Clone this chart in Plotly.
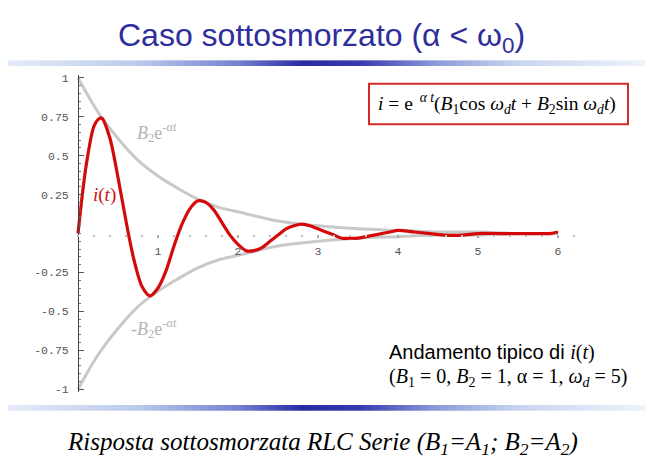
import plotly.graph_objects as go

# Underdamped series RLC response i(t) (B1 = 0, B2 = 1, alpha = 1, omega_d = 5)
t_vals = [0, 0.1, 0.2, 0.27, 0.3, 0.4, 0.5, 0.6, 0.7, 0.8, 0.9, 1.0, 1.1, 1.2, 1.3,
          1.4, 1.5, 1.6, 1.7, 1.8, 1.9, 2.0, 2.1, 2.2, 2.3, 2.4, 2.5, 2.6, 2.7,
          2.8, 2.9, 3.0, 3.1, 3.2, 3.3, 3.4, 3.5, 3.6, 3.7, 3.8, 3.9, 4.0, 4.2,
          4.4, 4.6, 4.8, 5.0, 5.3, 5.6, 5.9, 6.0]
i_vals = [0, 0.43, 0.69, 0.74, 0.74, 0.61, 0.36, 0.08, -0.17, -0.34, -0.40, -0.35,
          -0.24, -0.08, 0.06, 0.16, 0.21, 0.20, 0.15, 0.07, -0.01, -0.07, -0.11,
          -0.11, -0.09, -0.05, -0.01, 0.03, 0.05, 0.06, 0.05, 0.03, 0.01, -0.01,
          -0.03, -0.03, -0.03, -0.02, -0.01, 0.00, 0.01, 0.02, 0.01, 0.00, -0.01,
          -0.01, 0.00, 0.00, 0.00, 0.00, 0.01]

# Envelope B2*e^(-alpha t)
env_t = [0, 0.25, 0.5, 0.75, 1.0, 1.25, 1.5, 1.75, 2.0, 2.5, 3.0, 3.5, 4.0, 4.5,
         5.0, 5.5, 6.0]
env_upper = [1.0, 0.78, 0.61, 0.47, 0.37, 0.29, 0.22, 0.17, 0.14, 0.08, 0.05, 0.03,
             0.02, 0.01, 0.01, 0.0, 0.0]
env_lower = [-v for v in env_upper]

x_ticks = [1, 2, 3, 4, 5, 6]
x_labels = ["1", "2", "3", "4", "5", "6"]
y_ticks = [-1, -0.75, -0.5, -0.25, 0.25, 0.5, 0.75, 1]
y_labels = ["-1", "-0.75", "-0.5", "-0.25", "0.25", "0.5", "0.75", "1"]

W, H = 645, 473


def fx(p):
    return p / W


def fy(p):
    return 1 - p / H


GRAY = "#c9c9c9"
RED = "#d40a0a"
SERIF = "Liberation Serif"
SANS = "Liberation Sans"
MONO = "Liberation Mono"

fig = go.Figure()

fig.add_trace(go.Scatter(x=env_t, y=env_upper, mode="lines",
                         line=dict(color=GRAY, width=3, shape="spline"),
                         hoverinfo="skip", showlegend=False))
fig.add_trace(go.Scatter(x=env_t, y=env_lower, mode="lines",
                         line=dict(color=GRAY, width=3, shape="spline"),
                         hoverinfo="skip", showlegend=False))
fig.add_trace(go.Scatter(x=t_vals, y=i_vals, mode="lines",
                         line=dict(color=RED, width=3.2, shape="spline", smoothing=0.8),
                         showlegend=False))

# Decorative gradient rules above and below the chart
bar_scale = [[0, "#e4ecf8"], [0.2, "#bccbec"], [0.36, "#7482d0"], [0.46, "#2a2aa6"],
             [0.55, "#3838b0"], [0.67, "#8a9ad8"], [0.8, "#c8d5f0"], [1, "#eef3fb"]]
for ax in ("2", "3"):
    fig.add_trace(go.Heatmap(z=[[0, 1], [0, 1]], x=[0, 1], y=[0, 1],
                             colorscale=bar_scale, zsmooth="best", showscale=False,
                             hoverinfo="skip", xaxis="x" + ax, yaxis="y" + ax))

fig.update_layout(
    width=W, height=H,
    margin=dict(l=0, r=0, t=0, b=0),
    paper_bgcolor="white", plot_bgcolor="white",
    xaxis=dict(domain=[fx(74), fx(578)], range=[-0.05, 6.25],
               anchor="free", position=fy(234),
               showline=False, zeroline=False, showgrid=False,
               tickmode="array", tickvals=x_ticks, ticktext=x_labels,
               ticks="outside", ticklen=3, tickwidth=2, tickcolor="#aaaaaa",
               minor=dict(tickmode="linear", tick0=0, dtick=0.2, ticks="outside",
                          ticklen=2, tickwidth=2, tickcolor="#bdbdbd"),
               tickfont=dict(family=MONO, size=11.5, color="#555555"),
               ticklabelstandoff=4),
    yaxis=dict(domain=[fy(395.2), fy(72.8)], range=[-1.02, 1.02],
               anchor="free", position=fx(78),
               showline=True, linecolor="#444444", linewidth=1,
               zeroline=False, showgrid=False,
               tickmode="array", tickvals=y_ticks, ticktext=y_labels,
               ticks="inside", ticklen=5, tickwidth=1, tickcolor="#555555",
               minor=dict(tickmode="linear", tick0=0, dtick=0.05, ticks="inside",
                          ticklen=2, tickwidth=1, tickcolor="#777777"),
               tickfont=dict(family=MONO, size=11.5, color="#555555"),
               ticklabelstandoff=7),
    xaxis2=dict(domain=[fx(8), 1], range=[0, 1], visible=False, fixedrange=True),
    yaxis2=dict(domain=[fy(64), fy(58)], range=[0, 1], visible=False, fixedrange=True),
    xaxis3=dict(domain=[fx(8), 1], range=[0, 1], visible=False, fixedrange=True),
    yaxis3=dict(domain=[fy(414), fy(408)], range=[0, 1], visible=False, fixedrange=True),
)

# Formula box
fig.add_shape(type="rect", xref="paper", yref="paper",
              x0=fx(369), x1=fx(628), y0=fy(123), y1=fy(82),
              line=dict(color="#d42a2a", width=2), fillcolor="white")

annotations = [
    dict(text="Caso sottosmorzato (α < ω<sub>0</sub>)", x=fx(321), y=fy(35),
         xref="paper", yref="paper", xanchor="center", yanchor="middle",
         font=dict(family=SANS, size=32, color="#2e2e9c")),
    dict(text="<i>i</i> = e<sup>  <i>α t</i></sup>(<i>B</i><sub>1</sub>cos <i>ω<sub>d</sub>t</i>"
              " + <i>B</i><sub>2</sub>sin <i>ω<sub>d</sub>t</i>)",
         x=fx(497), y=fy(102), xref="paper", yref="paper",
         xanchor="center", yanchor="middle",
         font=dict(family=SERIF, size=19.5, color="black")),
    dict(text="Andamento tipico di <span style='font-family:Liberation Serif'>"
              "<i>i</i>(<i>t</i>)</span>",
         x=fx(387), y=fy(355), xref="paper", yref="paper",
         xanchor="left", yanchor="middle",
         font=dict(family=SANS, size=20, color="black")),
    dict(text="(<i>B</i><sub>1</sub> = 0, <i>B</i><sub>2</sub> = 1, α = 1, "
              "<i>ω<sub>d</sub></i> = 5)",
         x=fx(387), y=fy(380), xref="paper", yref="paper",
         xanchor="left", yanchor="middle",
         font=dict(family=SERIF, size=20, color="black")),
    dict(text="<i>Risposta sottosmorzata RLC Serie (B<sub>1</sub>=A<sub>1</sub>; "
              "B<sub>2</sub>=A<sub>2</sub>)</i>",
         x=fx(322), y=fy(447), xref="paper", yref="paper",
         xanchor="center", yanchor="middle",
         font=dict(family=SERIF, size=25, color="black")),
    dict(text="<i>B</i><sub>2</sub>e<sup>-<i>αt</i></sup>", x=0.99, y=0.65,
         xref="x", yref="y", xanchor="center", yanchor="middle",
         font=dict(family=SERIF, size=18, color="#b4b4b4")),
    dict(text="-<i>B</i><sub>2</sub>e<sup>-<i>αt</i></sup>", x=0.95, y=-0.61,
         xref="x", yref="y", xanchor="center", yanchor="middle",
         font=dict(family=SERIF, size=18, color="#b4b4b4")),
    dict(text="<i>i</i>(<i>t</i>)", x=0.33, y=0.25,
         xref="x", yref="y", xanchor="center", yanchor="middle",
         font=dict(family=SERIF, size=19, color="#c81414")),
]
for a in annotations:
    a["showarrow"] = False
    fig.add_annotation(**a)

fig.write_html("out.html")
